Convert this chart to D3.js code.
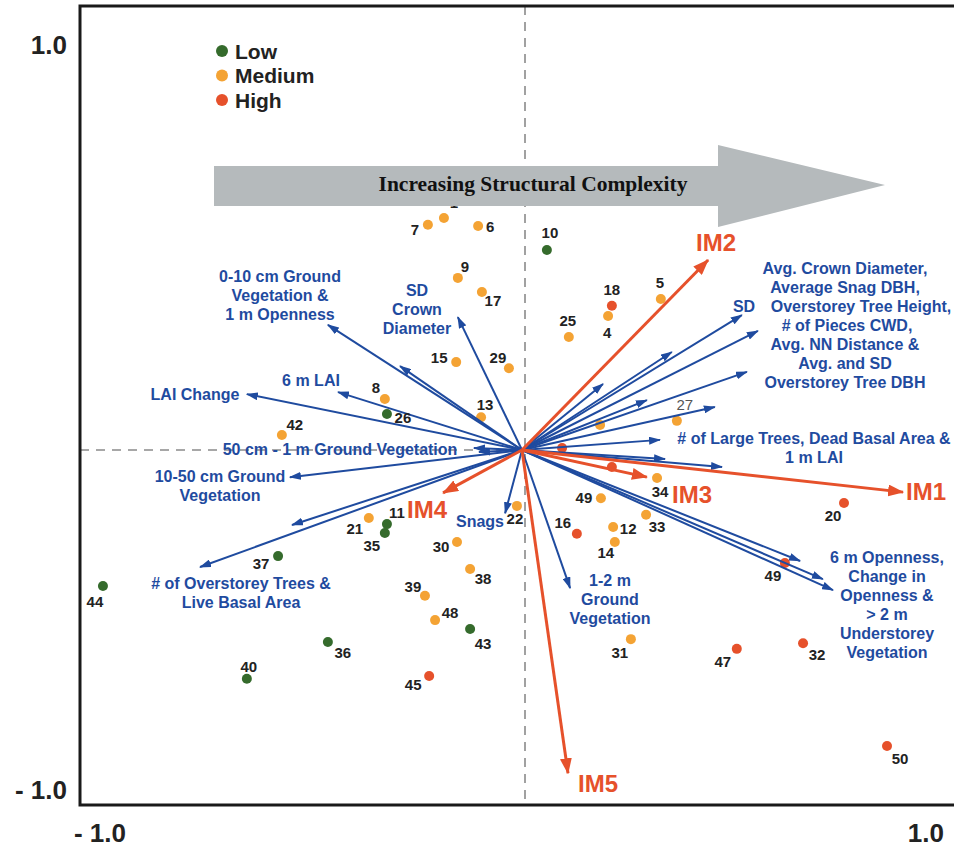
<!DOCTYPE html>
<html>
<head>
<meta charset="utf-8">
<script src="https://cdn.jsdelivr.net/npm/d3@7"></script>
<style>
  body { margin: 0; background: #fff; }
  text { font-family: "Liberation Sans", Arial, sans-serif; }
</style>
</head>
<body>
<svg id="chart"></svg>
<script>
// ordination scores
const levels = ["Low", "Medium", "High"];

const sites = [
    ["1", -0.185, 0.573, "Medium"], ["7", -0.223, 0.556, "Medium"], ["6", -0.104, 0.553, "Medium"],
    ["10", 0.059, 0.494, "Low"], ["18", 0.213, 0.356, "High"], ["4", 0.204, 0.331, "Medium"],
    ["5", 0.329, 0.373, "Medium"], ["25", 0.111, 0.279, "Medium"], ["9", -0.152, 0.425, "Medium"],
    ["17", -0.095, 0.390, "Medium"], ["15", -0.156, 0.217, "Medium"], ["29", -0.031, 0.202, "Medium"],
    ["8", -0.325, 0.126, "Medium"], ["26", -0.320, 0.089, "Low"], ["13", -0.097, 0.081, "Medium"],
    ["42", -0.569, 0.037, "Medium"], ["22", -0.012, -0.138, "Medium"], ["21", -0.363, -0.168, "Medium"],
    ["11", -0.320, -0.183, "Low"], ["35", -0.325, -0.205, "Low"], ["30", -0.154, -0.227, "Medium"],
    ["37", -0.578, -0.262, "Low"], ["38", -0.123, -0.294, "Medium"], ["39", -0.230, -0.360, "Medium"],
    ["48", -0.206, -0.420, "Medium"], ["44", -0.993, -0.336, "Low"], ["43", -0.123, -0.442, "Low"],
    ["36", -0.460, -0.474, "Low"], ["40", -0.652, -0.565, "Low"], ["45", -0.220, -0.558, "High"],
    ["27", 0.367, 0.072, "Medium"], ["", 0.185, 0.062, "Medium"], ["", 0.095, 0.005, "High"],
    ["", 0.213, -0.042, "High"], ["34", 0.320, -0.069, "Medium"], ["49", 0.187, -0.119, "Medium"],
    ["20", 0.763, -0.131, "High"], ["16", 0.130, -0.207, "High"], ["12", 0.216, -0.190, "Medium"],
    ["33", 0.294, -0.160, "Medium"], ["14", 0.220, -0.227, "Medium"], ["49", 0.623, -0.279, "High"],
    ["31", 0.258, -0.467, "Medium"], ["47", 0.509, -0.491, "High"], ["32", 0.666, -0.477, "High"],
    ["50", 0.865, -0.731, "High"]
];

// structural variable vectors (end points)
const structVectors = [
    [-0.460, 0.309], [-0.289, 0.207], [-0.152, 0.328], [-0.436, 0.143], [-0.652, 0.138],
    [-0.114, 0.005], [-0.102, -0.005], [-0.550, -0.067], [-0.763, -0.289], [-0.545, -0.185],
    [-0.040, -0.156], [0.114, -0.341], [0.659, -0.274], [0.713, -0.319], [0.737, -0.346],
    [0.327, 0.025], [0.339, -0.022], [0.474, -0.042], [0.521, 0.333], [0.559, 0.294],
    [0.533, 0.193], [0.355, 0.242], [0.192, 0.163], [0.296, 0.123], [0.457, 0.106]
];

// indicator vectors
const indicators = [
    ["IM1", 0.903, -0.104], ["IM2", 0.441, 0.469], ["IM3", 0.296, -0.067],
    ["IM4", -0.187, -0.106], ["IM5", 0.109, -0.798]
];

const xTickLabels = ["- 1.0", "1.0"];
const yTickLabels = ["1.0", "- 1.0"];

// ---- layout (not data) ----
const width = 954, height = 848;
const colors = { Low: "#356b2c", Medium: "#f4a334", High: "#e6512b" };
const blue = "#1f4b9f", red = "#e6512b";

const siteLabelOffsets = [
    [10, -15], [-13, 5], [12, 0], [3, -17], [0, -16], [-1, 17], [-1, -16], [-1, -17], [7, -11],
    [11, 8], [-17, -5], [-11, -11], [-9, -11], [16, 4], [4, -13], [13, -11], [-2, 13], [-14, 10],
    [10, -12], [-13, 12], [-16, 5], [-17, 7], [13, 9], [-12, -9], [15, -8], [-8, 15], [13, 14],
    [15, 11], [2, -12], [-16, 9], [8, -16], [0, 0], [0, 0], [0, 0], [3, 14], [-17, -1],
    [-11, 12], [-14, -11], [15, 2], [11, 12], [-9, 11], [-12, 13], [-11, 13], [-14, 13], [14, 11],
    [13, 12]
];

const vectorLabels = [
    { x: 845, y: 268, dx: [0, 0, 16, 2, 0, 0, 0],
      lines: ["Avg. Crown Diameter,", "Average Snag DBH,", "Overstorey Tree Height,",
        "# of Pieces CWD,", "Avg. NN Distance &", "Avg. and SD", "Overstorey Tree DBH"] },
    { x: 744, y: 306, lines: ["SD"] },
    { x: 280, y: 276, lines: ["0-10 cm Ground", "Vegetation &", "1 m Openness"] },
    { x: 417, y: 290, lines: ["SD", "Crown", "Diameter"] },
    { x: 311, y: 380, lines: ["6 m LAI"] },
    { x: 195, y: 394, lines: ["LAI Change"] },
    { x: 340, y: 449, lines: ["50 cm - 1 m Ground Vegetation"] },
    { x: 220, y: 476, lines: ["10-50 cm Ground", "Vegetation"] },
    { x: 241, y: 583, lines: ["# of Overstorey Trees &", "Live Basal Area"] },
    { x: 480, y: 521, lines: ["Snags"] },
    { x: 610, y: 580, lines: ["1-2 m", "Ground", "Vegetation"] },
    { x: 887, y: 557, lines: ["6 m Openness,", "Change in", "Openness &", "> 2 m", "Understorey", "Vegetation"] },
    { x: 814, y: 438, lines: ["# of Large Trees, Dead Basal Area &", "1 m LAI"] }
];

const indicatorLabelPos = {
    IM1: [906, 491, "start"], IM2: [716, 242, "middle"], IM3: [672, 494, "start"],
    IM4: [427, 509, "middle"], IM5: [578, 783, "start"]
};

const svg = d3.select("#chart").attr("width", width).attr("height", height);

const xscale = d3.scaleLinear().domain([-1, 1]).range([100, 944]);
const yscale = d3.scaleLinear().domain([-1, 1]).range([855, 45]);

const frame = { left: 80, top: 6, bottom: 805 };

// markers
const defs = svg.append("defs");
defs.append("marker").attr("id", "headBlue")
    .attr("viewBox", "0 0 12 8").attr("refX", 11).attr("refY", 4)
    .attr("markerWidth", 12).attr("markerHeight", 8)
    .attr("markerUnits", "userSpaceOnUse").attr("orient", "auto")
    .append("path").attr("d", "M0,0 L12,4 L0,8 Z").attr("fill", blue);
defs.append("marker").attr("id", "headRed")
    .attr("viewBox", "0 0 16 12").attr("refX", 15).attr("refY", 6)
    .attr("markerWidth", 16).attr("markerHeight", 12)
    .attr("markerUnits", "userSpaceOnUse").attr("orient", "auto")
    .append("path").attr("d", "M0,0 L16,6 L0,12 Z").attr("fill", red);

// dashed reference lines
svg.append("line")
    .attr("x1", xscale(0) + 3).attr("x2", xscale(0) + 3)
    .attr("y1", frame.top).attr("y2", frame.bottom)
    .attr("stroke", "#8a8a8a").attr("stroke-width", 1.6).attr("stroke-dasharray", "9,7");
svg.append("line")
    .attr("x1", frame.left).attr("x2", xscale(0))
    .attr("y1", yscale(0)).attr("y2", yscale(0))
    .attr("stroke", "#8a8a8a").attr("stroke-width", 1.6).attr("stroke-dasharray", "9,7");

// sites
svg.append("g").selectAll("circle")
    .data(sites)
    .join("circle")
    .attr("cx", d => xscale(d[1]))
    .attr("cy", d => yscale(d[2]))
    .attr("r", 5)
    .attr("fill", d => colors[d[3]]);

// structural vectors
svg.append("g").selectAll("line")
    .data(structVectors)
    .join("line")
    .attr("x1", xscale(0)).attr("y1", yscale(0))
    .attr("x2", d => xscale(d[0])).attr("y2", d => yscale(d[1]))
    .attr("stroke", blue).attr("stroke-width", 2)
    .attr("marker-end", "url(#headBlue)");

// indicator vectors
svg.append("g").selectAll("line")
    .data(indicators)
    .join("line")
    .attr("x1", xscale(0)).attr("y1", yscale(0))
    .attr("x2", d => xscale(d[1])).attr("y2", d => yscale(d[2]))
    .attr("stroke", red).attr("stroke-width", 3)
    .attr("marker-end", "url(#headRed)");

// site labels
svg.append("g").selectAll("text")
    .data(sites)
    .join("text")
    .attr("x", (d, i) => xscale(d[1]) + siteLabelOffsets[i][0])
    .attr("y", (d, i) => yscale(d[2]) + siteLabelOffsets[i][1])
    .attr("text-anchor", "middle")
    .attr("dominant-baseline", "central")
    .attr("font-size", 15)
    .attr("font-weight", d => d[0] === "27" ? "normal" : "bold")
    .attr("fill", d => d[0] === "27" ? "#555" : "#222")
    .text(d => d[0]);

// gray "complexity" arrow
const gx = xscale.invert, gy = yscale.invert;
const arrowPts = [
    [gx(214), gy(166)], [gx(718), gy(166)], [gx(718), gy(145)], [gx(885), gy(185)],
    [gx(718), gy(227)], [gx(718), gy(206)], [gx(214), gy(206)]
];
svg.append("polygon")
    .attr("points", arrowPts.map(p => [xscale(p[0]), yscale(p[1])].join(",")).join(" "))
    .attr("fill", "#b5babc");
svg.append("text")
    .attr("x", 533).attr("y", 191)
    .attr("text-anchor", "middle")
    .style("font-family", "'Liberation Serif', 'Times New Roman', serif")
    .attr("font-weight", "bold").attr("font-size", 21.5)
    .attr("fill", "#111")
    .text("Increasing Structural Complexity");

// vector labels
const vl = svg.append("g")
    .attr("fill", blue).attr("font-weight", "bold").attr("font-size", 16)
    .attr("text-anchor", "middle");
vectorLabels.forEach(lab => {
    lab.lines.forEach((line, i) => {
        vl.append("text")
            .attr("x", lab.x + (lab.dx ? lab.dx[i] : 0)).attr("y", lab.y + i * 19)
            .attr("dominant-baseline", "central")
            .text(line);
    });
});

// indicator labels
svg.append("g").selectAll("text")
    .data(indicators)
    .join("text")
    .attr("x", d => indicatorLabelPos[d[0]][0])
    .attr("y", d => indicatorLabelPos[d[0]][1])
    .attr("text-anchor", d => indicatorLabelPos[d[0]][2])
    .attr("dominant-baseline", "central")
    .attr("font-size", 24).attr("font-weight", "bold")
    .attr("fill", red)
    .text(d => d[0]);

// legend
const legend = svg.append("g");
levels.forEach((lv, i) => {
    legend.append("circle").attr("cx", 222).attr("cy", 51 + i * 24.5).attr("r", 6).attr("fill", colors[lv]);
    legend.append("text").attr("x", 235).attr("y", 51 + i * 24.5)
        .attr("dominant-baseline", "central")
        .attr("font-size", 21).attr("font-weight", "bold").attr("fill", "#222")
        .text(lv);
});

// frame
svg.append("path")
    .attr("d", `M${width + 5},${frame.top} H${frame.left} V${frame.bottom} H${width + 5}`)
    .attr("fill", "none").attr("stroke", "#1a1a1a").attr("stroke-width", 3);

// axis end labels
svg.append("text").attr("x", xscale(-1)).attr("y", 833)
    .attr("text-anchor", "middle").attr("dominant-baseline", "central")
    .attr("font-size", 26).attr("font-weight", "bold").attr("fill", "#222")
    .text(xTickLabels[0]);
svg.append("text").attr("x", xscale(1)).attr("y", 833)
    .attr("text-anchor", "end").attr("dominant-baseline", "central")
    .attr("font-size", 26).attr("font-weight", "bold").attr("fill", "#222")
    .text(xTickLabels[1]);
svg.append("text").attr("x", 67).attr("y", yscale(1))
    .attr("text-anchor", "end").attr("dominant-baseline", "central")
    .attr("font-size", 26).attr("font-weight", "bold").attr("fill", "#222")
    .text(yTickLabels[0]);
svg.append("text").attr("x", 67).attr("y", 790)
    .attr("text-anchor", "end").attr("dominant-baseline", "central")
    .attr("font-size", 26).attr("font-weight", "bold").attr("fill", "#222")
    .text(yTickLabels[1]);
</script>
</body>
</html>
